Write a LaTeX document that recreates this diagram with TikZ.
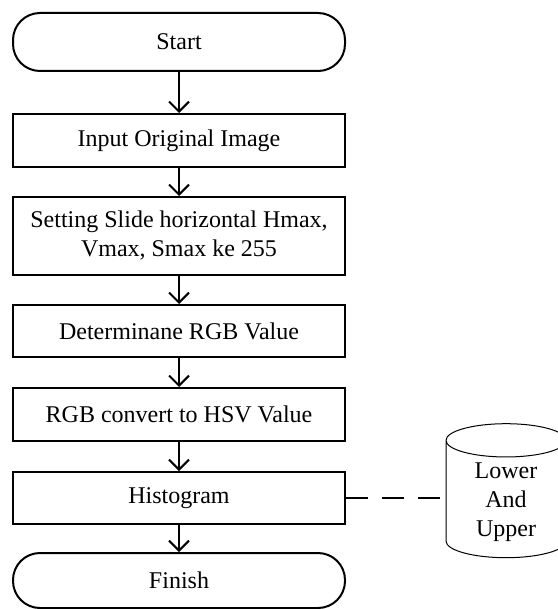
\documentclass[tikz,border=0pt]{standalone}
\usepackage{fontspec}
\setmainfont{Liberation Serif}
\newfontfamily\boxfont{Liberation Serif}
\usetikzlibrary{shapes.geometric,arrows.meta}

\begin{document}
\begin{tikzpicture}[x=1pt,y=-1pt,
  font=\boxfont\fontsize{24}{29}\selectfont,
  proc/.style={draw,line width=2pt,minimum width=332pt,align=center,inner sep=0pt},
  term/.style={proc,rounded corners=27pt},
  flow/.style={line width=2pt,-{Straight Barb[length=10pt,width=20pt,line width=2pt]}}]

\useasboundingbox (0,0) rectangle (557,609);

% main column
\node [term,minimum height=58pt] (start) at (179,42) {Start};
\node [proc,minimum height=53pt] (input) at (179,140.5) {Input Original Image};
\node [proc,minimum height=78pt] (slide) at (179,236) {Setting Slide horizontal Hmax,\\ Vmax, Smax ke 255};
\node [proc,minimum height=52pt] (rgb) at (179,331) {Determinane RGB Value};
\node [proc,minimum height=53pt] (hsv) at (179,414.5) {RGB convert to HSV Value};
\node [proc,minimum height=52pt] (hist) at (179,498) {Histogram};
\node [term,minimum height=55pt] (finish) at (179,580.5) {Finish};

% data store
\node [cylinder,draw,line width=1pt,shape border rotate=90,aspect=0.48,
  minimum width=120pt,minimum height=134pt,align=center] (store) at (506,502) {Lower\\ And\\ Upper};

\foreach \a/\b in {start/input,input/slide,slide/rgb,rgb/hsv,hsv/hist,hist/finish}
  \draw [flow] (\a) -- (\b);

\draw [line width=2pt,dash pattern=on 22pt off 14pt] (hist.east) -- (hist.east -| store.west);

\end{tikzpicture}
\end{document}
